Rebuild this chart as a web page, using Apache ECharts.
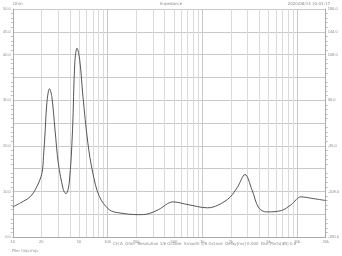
<!DOCTYPE html>
<html><head><meta charset="utf-8">
<script src="https://cdn.jsdelivr.net/npm/echarts@6/dist/echarts.min.js"></script>
<style>html,body{margin:0;padding:0;background:#fff}#c{width:342px;height:256px}</style>
</head><body><div id="c"></div>
<script>
const freqs = [10,12.1,15.4,18,20.3,21.1,22,22.9,24.4,25.8,27.9,30.2,34.1,36.4,39.4,42.7,45.1,47.6,50.8,55,61.9,69.8,81.9,104,132,213,271,344,492,705,1136,1832,2328,2818,3334,3938,4764,6823,8670,10970,15020,20000];
const ohms = [6.6,7.5,8.9,11.1,14.0,17.7,23.5,29.5,32.5,30.8,23.5,16.3,10.4,9.5,11.9,23.5,38.2,41.4,38.9,30.8,20.7,14.1,8.9,6.0,5.3,4.9,5.1,6.0,7.7,7.1,6.4,8.2,10.8,13.7,10.4,6.4,5.5,5.8,7.1,8.8,8.4,8.0];
const minorFreqs = [20,30,40,50,60,70,80,90,200,300,400,500,600,700,800,900,2000,3000,4000,5000,6000,7000,8000,9000];
const labeledMinor = {20:'20',50:'50',200:'200',500:'500',2000:'2k',5000:'5k'};
const majorLabels = {10:'10',100:'100',1000:'1k',10000:'10k',20000:'20k'};
const ohmLabels = [0,10,20,30,40,45,50];
const degLabels = [-180,-108,-36,36,108,144,180];

const chart = echarts.init(document.getElementById('c'), null, {renderer:'canvas'});
const grey = '#c9c9c9', txt = '#8a8a8a', fs = 4;
chart.setOption({
  animation:false,
  backgroundColor:'#fff',
  grid:{left:12,right:12,top:9,bottom:19,containLabel:false},
  xAxis:{type:'log',logBase:10,min:10,max:20000,
    axisLine:{show:true,lineStyle:{color:'#aaa',width:1}},
    axisTick:{show:false},
    splitLine:{show:true,lineStyle:{color:grey,width:1}},
    minorTick:{show:false},minorSplitLine:{show:false},
    axisLabel:{fontSize:fs,color:txt,margin:3,formatter:v=>majorLabels[Math.round(v)]||''}},
  yAxis:[
    {type:'value',min:0,max:50,interval:5,position:'left',
     axisLine:{show:true,lineStyle:{color:'#aaa'}},
     axisTick:{show:false},
     minorTick:{show:true,splitNumber:5,length:2,lineStyle:{color:'#bbb'}},
     splitLine:{show:true,lineStyle:{color:grey}},
     axisLabel:{fontSize:fs,color:txt,margin:2,formatter:v=>ohmLabels.indexOf(v)>=0?v.toFixed(1):''}},
    {type:'value',min:-180,max:180,interval:36,position:'right',
     axisLine:{show:true,lineStyle:{color:'#aaa'}},
     axisTick:{show:false},
     minorTick:{show:true,splitNumber:5,length:2,lineStyle:{color:'#bbb'}},
     splitLine:{show:false},
     axisLabel:{fontSize:fs,color:txt,margin:2,formatter:v=>degLabels.indexOf(v)>=0?v.toFixed(1):''}}
  ],
  graphic:[
    {type:'text',left:13,top:2,style:{text:'Ohm',fontSize:fs,fill:txt,fontFamily:'DejaVu Sans'}},
    {type:'text',left:'center',top:2,style:{text:'Impedance',fontSize:fs,fill:txt,fontFamily:'DejaVu Sans'}},
    {type:'text',right:12,top:2,style:{text:'2020/08/14 10:03:17',fontSize:fs,fill:txt,fontFamily:'DejaVu Sans'}},
    {type:'text',left:113,top:242,style:{text:'CH A  Ohm  Resolution 1/6 Octave  Smooth 1/6 Octave  Delay[ms] 0.000  Dist.Ports[dB] 0.0',fontSize:fs,fill:txt,fontFamily:'DejaVu Sans'}},
    {type:'text',left:12,top:249,style:{text:'File: imp.imp',fontSize:fs,fill:txt,fontFamily:'DejaVu Sans'}}
  ],
  series:[{
    type:'line',yAxisIndex:0,z:3,
    data:freqs.map((f,i)=>[f,ohms[i]]),
    smooth:0.35,showSymbol:false,
    lineStyle:{color:'#555',width:1},
    markLine:{silent:true,symbol:['none','none'],animation:false,z:1,
      lineStyle:{color:'#dadada',width:1,type:'solid',opacity:1},
      label:{show:true,position:'start',fontSize:fs,color:txt,distance:3,
        formatter:p=>labeledMinor[p.value]||''},
      data:minorFreqs.map(f=>({xAxis:f,lineStyle:{color:'#dadada',width:1,type:'solid'}}))}
  }]
});
</script></body></html>
